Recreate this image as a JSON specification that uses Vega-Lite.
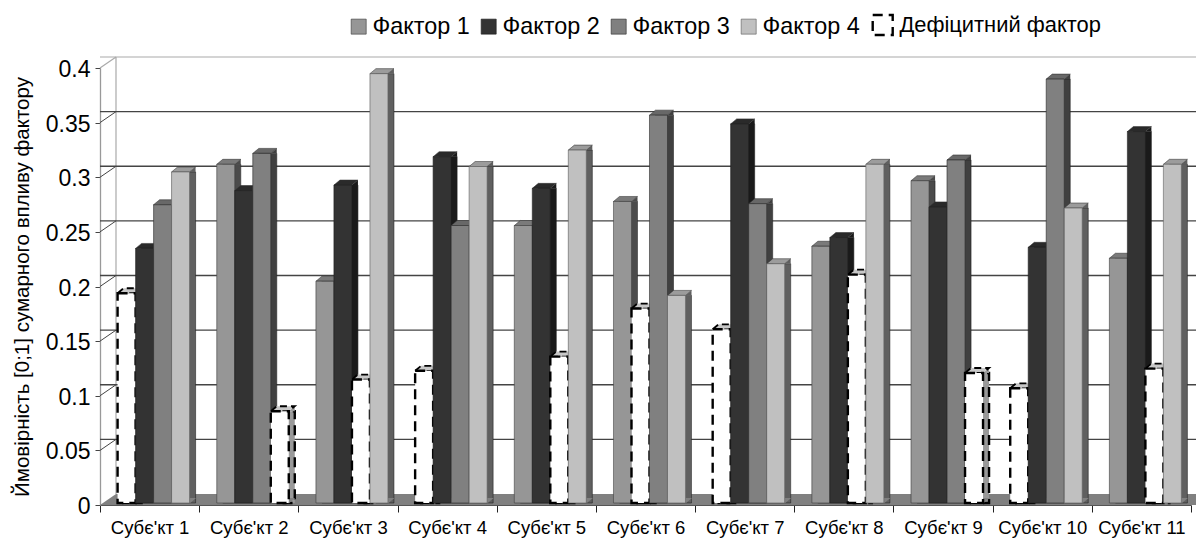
{
"$schema":"https://vega.github.io/schema/vega-lite/v6.json",
"width":1091,"height":437,
"autosize":{"type":"none"},
"padding":{"left":100,"top":68,"right":5,"bottom":35},
"background":"white",
"config":{"font":"Liberation Sans","view":{"stroke":null}},
"resolve":{"scale":{"xOffset":"independent"}},
"datasets":{
"bars":[
{"subject":"Субє'кт 1","slot":1,"factor":"Дефіцитний фактор","value":0.192},
{"subject":"Субє'кт 1","slot":2,"factor":"Фактор 2","value":0.233},
{"subject":"Субє'кт 1","slot":3,"factor":"Фактор 3","value":0.273},
{"subject":"Субє'кт 1","slot":4,"factor":"Фактор 4","value":0.303},
{"subject":"Субє'кт 2","slot":1,"factor":"Фактор 1","value":0.31},
{"subject":"Субє'кт 2","slot":2,"factor":"Фактор 2","value":0.286},
{"subject":"Субє'кт 2","slot":3,"factor":"Фактор 3","value":0.32},
{"subject":"Субє'кт 2","slot":4,"factor":"Дефіцитний фактор","value":0.084},
{"subject":"Субє'кт 3","slot":1,"factor":"Фактор 1","value":0.203},
{"subject":"Субє'кт 3","slot":2,"factor":"Фактор 2","value":0.291},
{"subject":"Субє'кт 3","slot":3,"factor":"Дефіцитний фактор","value":0.113},
{"subject":"Субє'кт 3","slot":4,"factor":"Фактор 4","value":0.393},
{"subject":"Субє'кт 4","slot":1,"factor":"Дефіцитний фактор","value":0.121},
{"subject":"Субє'кт 4","slot":2,"factor":"Фактор 2","value":0.317},
{"subject":"Субє'кт 4","slot":3,"factor":"Фактор 3","value":0.254},
{"subject":"Субє'кт 4","slot":4,"factor":"Фактор 4","value":0.308},
{"subject":"Субє'кт 5","slot":1,"factor":"Фактор 1","value":0.254},
{"subject":"Субє'кт 5","slot":2,"factor":"Фактор 2","value":0.288},
{"subject":"Субє'кт 5","slot":3,"factor":"Дефіцитний фактор","value":0.134},
{"subject":"Субє'кт 5","slot":4,"factor":"Фактор 4","value":0.323},
{"subject":"Субє'кт 6","slot":1,"factor":"Фактор 1","value":0.276},
{"subject":"Субє'кт 6","slot":2,"factor":"Дефіцитний фактор","value":0.178},
{"subject":"Субє'кт 6","slot":3,"factor":"Фактор 3","value":0.355},
{"subject":"Субє'кт 6","slot":4,"factor":"Фактор 4","value":0.19},
{"subject":"Субє'кт 7","slot":1,"factor":"Дефіцитний фактор","value":0.159},
{"subject":"Субє'кт 7","slot":2,"factor":"Фактор 2","value":0.347},
{"subject":"Субє'кт 7","slot":3,"factor":"Фактор 3","value":0.274},
{"subject":"Субє'кт 7","slot":4,"factor":"Фактор 4","value":0.219},
{"subject":"Субє'кт 8","slot":1,"factor":"Фактор 1","value":0.235},
{"subject":"Субє'кт 8","slot":2,"factor":"Фактор 2","value":0.243},
{"subject":"Субє'кт 8","slot":3,"factor":"Дефіцитний фактор","value":0.209},
{"subject":"Субє'кт 8","slot":4,"factor":"Фактор 4","value":0.31},
{"subject":"Субє'кт 9","slot":1,"factor":"Фактор 1","value":0.295},
{"subject":"Субє'кт 9","slot":2,"factor":"Фактор 2","value":0.271},
{"subject":"Субє'кт 9","slot":3,"factor":"Фактор 3","value":0.314},
{"subject":"Субє'кт 9","slot":4,"factor":"Дефіцитний фактор","value":0.119},
{"subject":"Субє'кт 10","slot":1,"factor":"Дефіцитний фактор","value":0.105},
{"subject":"Субє'кт 10","slot":2,"factor":"Фактор 2","value":0.234},
{"subject":"Субє'кт 10","slot":3,"factor":"Фактор 3","value":0.388},
{"subject":"Субє'кт 10","slot":4,"factor":"Фактор 4","value":0.27},
{"subject":"Субє'кт 11","slot":1,"factor":"Фактор 1","value":0.224},
{"subject":"Субє'кт 11","slot":2,"factor":"Фактор 2","value":0.34},
{"subject":"Субє'кт 11","slot":3,"factor":"Дефіцитний фактор","value":0.123},
{"subject":"Субє'кт 11","slot":4,"factor":"Фактор 4","value":0.31}
],
"ticks":[{"tick":0.05},{"tick":0.1},{"tick":0.15},{"tick":0.2},{"tick":0.25},{"tick":0.3},{"tick":0.35}]
},
"layer":[
{"data":{"values":[{"tick":0}]},
 "mark":{"type":"point","filled":true,"opacity":1,"size":4,"shape":"M0,0 L16,-11 L1112,-11 L1096,0 Z","fill":"#808080","stroke":null},
 "encoding":{"x":{"datum":"Субє'кт 1","type":"nominal","bandPosition":0,"scale":{"padding":0,"domain":["Субє'кт 1","Субє'кт 2","Субє'кт 3","Субє'кт 4","Субє'кт 5","Субє'кт 6","Субє'кт 7","Субє'кт 8","Субє'кт 9","Субє'кт 10","Субє'кт 11"]},"axis":{"title":null,"labelAngle":0,"labelFontSize":18.5,"labelColor":"#000","labelPadding":6,"tickBand":"extent","bandPosition":0,"tickSize":7,"tickColor":"#222","domainColor":"#555","domainWidth":1.2,"labelFont":"Liberation Sans"}},
 "y":{"field":"tick","type":"quantitative","scale":{"domain":[0,0.4],"nice":false},"axis":{"title":"Ймовірність [0;1] сумарного впливу фактору","titleFontSize":20.5,"titleFontWeight":"normal","titleColor":"#000","titlePadding":13,"values":[0,0.05,0.1,0.15,0.2,0.25,0.3,0.35,0.4],"format":"~g","labelFontSize":23,"labelColor":"#000","labelPadding":5,"labelOffset":1.5,"tickSize":5,"tickColor":"#444","domainColor":"#999","domainWidth":1.3,"grid":false}}}},
{"data":{"values":[{"tick":0}]},
 "mark":{"type":"point","filled":false,"opacity":1,"size":4,"shape":"M16,-11 L16,-448 M0,-437 L16,-448","stroke":"#aaaaaa","strokeWidth":1.2},
 "encoding":{"x":{"datum":"Субє'кт 1","type":"nominal","bandPosition":0},"y":{"field":"tick","type":"quantitative"}}},
{"data":{"values":[{"tick":0.4}]},
 "mark":{"type":"rule","stroke":"#aaaaaa","strokeWidth":1.2,"xOffset":16,"x2Offset":16,"yOffset":-11},
 "encoding":{"y":{"field":"tick","type":"quantitative"}}},
{"data":{"name":"ticks"},
 "mark":{"type":"rule","stroke":"#444444","strokeWidth":1.3,"xOffset":16,"x2Offset":16,"yOffset":-11},
 "encoding":{"y":{"field":"tick","type":"quantitative"}}},
{"data":{"name":"ticks"},
 "mark":{"type":"point","filled":false,"opacity":1,"size":4,"shape":"M0,0 L16,-11","stroke":"#444444","strokeWidth":1},
 "encoding":{"x":{"datum":"Субє'кт 1","type":"nominal","bandPosition":0},"y":{"field":"tick","type":"quantitative"}}},
{"data":{"name":"bars"},
 "mark":{"type":"bar","yOffset":-2,"y2Offset":-7},
 "encoding":{"x":{"field":"subject","type":"nominal"},"xOffset":{"field":"slot","type":"ordinal","scale":{"domain":[1,2,3,4],"paddingOuter":0.755,"paddingInner":0,"align":0.868}},"y":{"field":"value","type":"quantitative"},
 "fill":{"condition":[{"test":"datum.factor==='Фактор 1'","value":"#4b4b4b"},{"test":"datum.factor==='Фактор 2'","value":"#1a1a1a"},{"test":"datum.factor==='Фактор 3'","value":"#404040"},{"test":"datum.factor==='Фактор 4'","value":"#606060"}],"value":"#999999"},
 "stroke":{"condition":{"test":"datum.factor==='Дефіцитний фактор'","value":"#000000"},"value":"#222222"},
 "strokeWidth":{"condition":{"test":"datum.factor==='Дефіцитний фактор'","value":2.4},"value":0.6},
 "strokeDash":{"condition":{"test":"datum.factor==='Дефіцитний фактор'","value":[10,6]},"value":[1,0]}}},
{"data":{"name":"bars"},
 "mark":{"type":"point","filled":true,"opacity":1,"size":4,"shape":"M9,0 L15,-5 L15,0 Z","yOffset":-2,"strokeWidth":0},
 "encoding":{"x":{"field":"subject","type":"nominal"},"xOffset":{"field":"slot","type":"ordinal","scale":{"type":"band","domain":[1,2,3,4],"paddingOuter":0.755,"paddingInner":0,"align":0.647}},"y":{"field":"value","type":"quantitative"},
 "fill":{"condition":[{"test":"datum.factor==='Фактор 1'","value":"#4b4b4b"},{"test":"datum.factor==='Фактор 2'","value":"#1a1a1a"},{"test":"datum.factor==='Фактор 3'","value":"#404040"},{"test":"datum.factor==='Фактор 4'","value":"#606060"}],"value":"#999999"}}},
{"data":{"name":"bars"},
 "mark":{"type":"point","filled":true,"opacity":1,"size":4,"shape":"M9,0.5 L15.5,-5 L9,-5 Z","fill":"#808080","yOffset":-2,"stroke":null},
 "encoding":{"x":{"field":"subject","type":"nominal"},"xOffset":{"field":"slot","type":"ordinal","scale":{"type":"band","domain":[1,2,3,4],"paddingOuter":0.755,"paddingInner":0,"align":0.647}},"y":{"datum":0,"type":"quantitative"}}},
{"data":{"name":"bars"},
 "mark":{"type":"point","filled":true,"opacity":1,"size":4,"shape":"M-9,0 L-3,-5 L15,-5 L9,0 Z","yOffset":-2},
 "encoding":{"x":{"field":"subject","type":"nominal"},"xOffset":{"field":"slot","type":"ordinal","scale":{"type":"band","domain":[1,2,3,4],"paddingOuter":0.755,"paddingInner":0,"align":0.647}},"y":{"field":"value","type":"quantitative"},
 "fill":{"condition":[{"test":"datum.factor==='Фактор 1'","value":"#7a7a7a"},{"test":"datum.factor==='Фактор 2'","value":"#2a2a2a"},{"test":"datum.factor==='Фактор 3'","value":"#686868"},{"test":"datum.factor==='Фактор 4'","value":"#9c9c9c"}],"value":"#c8c8c8"},
 "stroke":{"condition":{"test":"datum.factor==='Дефіцитний фактор'","value":"#000000"},"value":"#333333"},
 "strokeWidth":{"condition":{"test":"datum.factor==='Дефіцитний фактор'","value":1.8},"value":0.6},
 "strokeDash":{"condition":{"test":"datum.factor==='Дефіцитний фактор'","value":[7,4]},"value":[1,0]}}},
{"data":{"name":"bars"},
 "mark":{"type":"bar","yOffset":-2,"y2Offset":-2},
 "encoding":{"x":{"field":"subject","type":"nominal"},"xOffset":{"field":"slot","type":"ordinal","scale":{"domain":[1,2,3,4],"paddingOuter":0.755,"paddingInner":0,"align":0.647}},"y":{"field":"value","type":"quantitative"},
 "fill":{"field":"factor","type":"nominal","scale":{"domain":["Фактор 1","Фактор 2","Фактор 3","Фактор 4","Дефіцитний фактор"],"range":["#969696","#333333","#808080","#c0c0c0","#ffffff"]},
  "legend":{"title":null,"orient":"none","legendX":247,"legendY":-55,"direction":"horizontal","columns":5,"columnPadding":7,"symbolType":"square","symbolSize":225,"labelFontSize":23.4,"labelColor":"#000","labelOffset":2,"labelLimit":300,"encode":{"labels":{"update":{"fontSize":{"signal":"datum.value==='Дефіцитний фактор'?21.9:23.4"},"dx":{"signal":"datum.value==='Дефіцитний фактор'?3:0"}}},"symbols":{"update":{"size":{"signal":"datum.value==='Дефіцитний фактор'?400:225"},"strokeWidth":{"signal":"datum.value==='Дефіцитний фактор'?2.4:1"}}}}}},
 "stroke":{"field":"factor","type":"nominal","scale":{"type":"ordinal","domain":["Фактор 1","Фактор 2","Фактор 3","Фактор 4","Дефіцитний фактор"],"range":["#444444","#222222","#333333","#666666","#000000"]},"legend":null},
 "strokeDash":{"field":"factor","type":"nominal","scale":{"domain":["Фактор 1","Фактор 2","Фактор 3","Фактор 4","Дефіцитний фактор"],"range":[[1,0],[1,0],[1,0],[1,0],[10,6]]},"legend":null},
 "strokeWidth":{"field":"factor","type":"nominal","scale":{"type":"ordinal","domain":["Фактор 1","Фактор 2","Фактор 3","Фактор 4","Дефіцитний фактор"],"range":[0.7,0.7,0.7,0.7,2.4]},"legend":null}}}
]
}
